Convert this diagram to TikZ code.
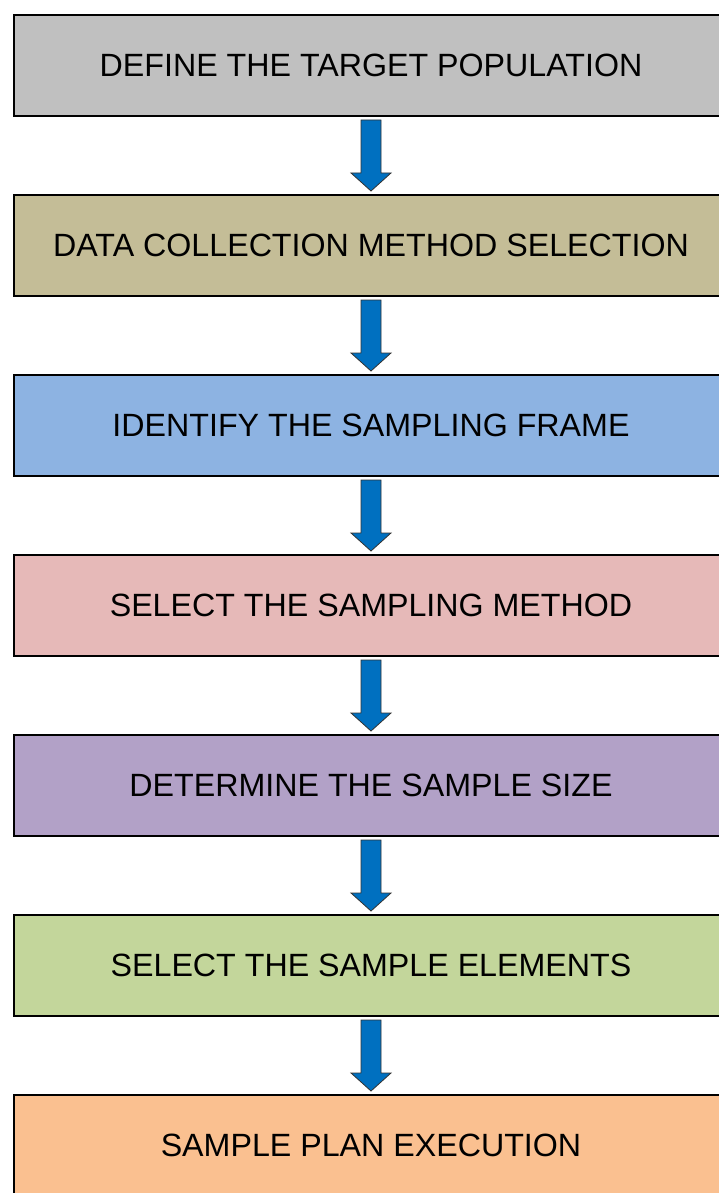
\documentclass[tikz,border=0pt]{standalone}
\usepackage{fontspec}
\setmainfont{Liberation Sans}
\usetikzlibrary{positioning,calc}
\definecolor{stepgray}{RGB}{192,192,192}
\definecolor{steptan}{RGB}{196,189,151}
\definecolor{stepblue}{RGB}{141,179,226}
\definecolor{steppink}{RGB}{230,185,184}
\definecolor{steppurple}{RGB}{178,161,199}
\definecolor{stepgreen}{RGB}{195,214,155}
\definecolor{steporange}{RGB}{250,192,144}
\definecolor{arrowblue}{RGB}{0,112,192}

\tikzset{
  stepbox/.style={draw=black, line width=2pt, rectangle,
    minimum width=714pt, minimum height=101pt, inner sep=0pt,
    font=\fontsize{32.2}{38}\selectfont},
  blockarrow/.style={fill=arrowblue, draw=black!80, line width=0.8pt, line join=miter}
}
% fat down arrow from one box to the next
\newcommand{\flowarrow}[2]{%
  \draw[blockarrow] ($(#1.south)+(-10,-3)$) -- ($(#1.south)+(10,-3)$)
    -- ($(#2.north)+(10,21)$) -- ($(#2.north)+(20,21)$) -- ($(#2.north)+(0,3)$)
    -- ($(#2.north)+(-20,21)$) -- ($(#2.north)+(-10,21)$) -- cycle;}

\begin{document}
\begin{tikzpicture}[x=1pt, y=1pt]
	\useasboundingbox (0,0) rectangle (719,-1193);
	\clip (0,0) rectangle (719,-1193);
	\node[stepbox, fill=stepgray] (define) at (371,-65.5) {DEFINE THE TARGET POPULATION};
	\node[stepbox, fill=steptan, below=77pt of define] (collect) {DATA COLLECTION METHOD SELECTION};
	\node[stepbox, fill=stepblue, below=77pt of collect] (frame) {IDENTIFY THE SAMPLING FRAME};
	\node[stepbox, fill=steppink, below=77pt of frame] (method) {SELECT THE SAMPLING METHOD};
	\node[stepbox, fill=steppurple, below=77pt of method] (size) {DETERMINE THE SAMPLE SIZE};
	\node[stepbox, fill=stepgreen, below=77pt of size] (elements) {SELECT THE SAMPLE ELEMENTS};
	\node[stepbox, fill=steporange, below=77pt of elements] (execute) {SAMPLE PLAN EXECUTION};
	% arrows between the steps
	\flowarrow{define}{collect}
	\flowarrow{collect}{frame}
	\flowarrow{frame}{method}
	\flowarrow{method}{size}
	\flowarrow{size}{elements}
	\flowarrow{elements}{execute}
\end{tikzpicture}
\end{document}
